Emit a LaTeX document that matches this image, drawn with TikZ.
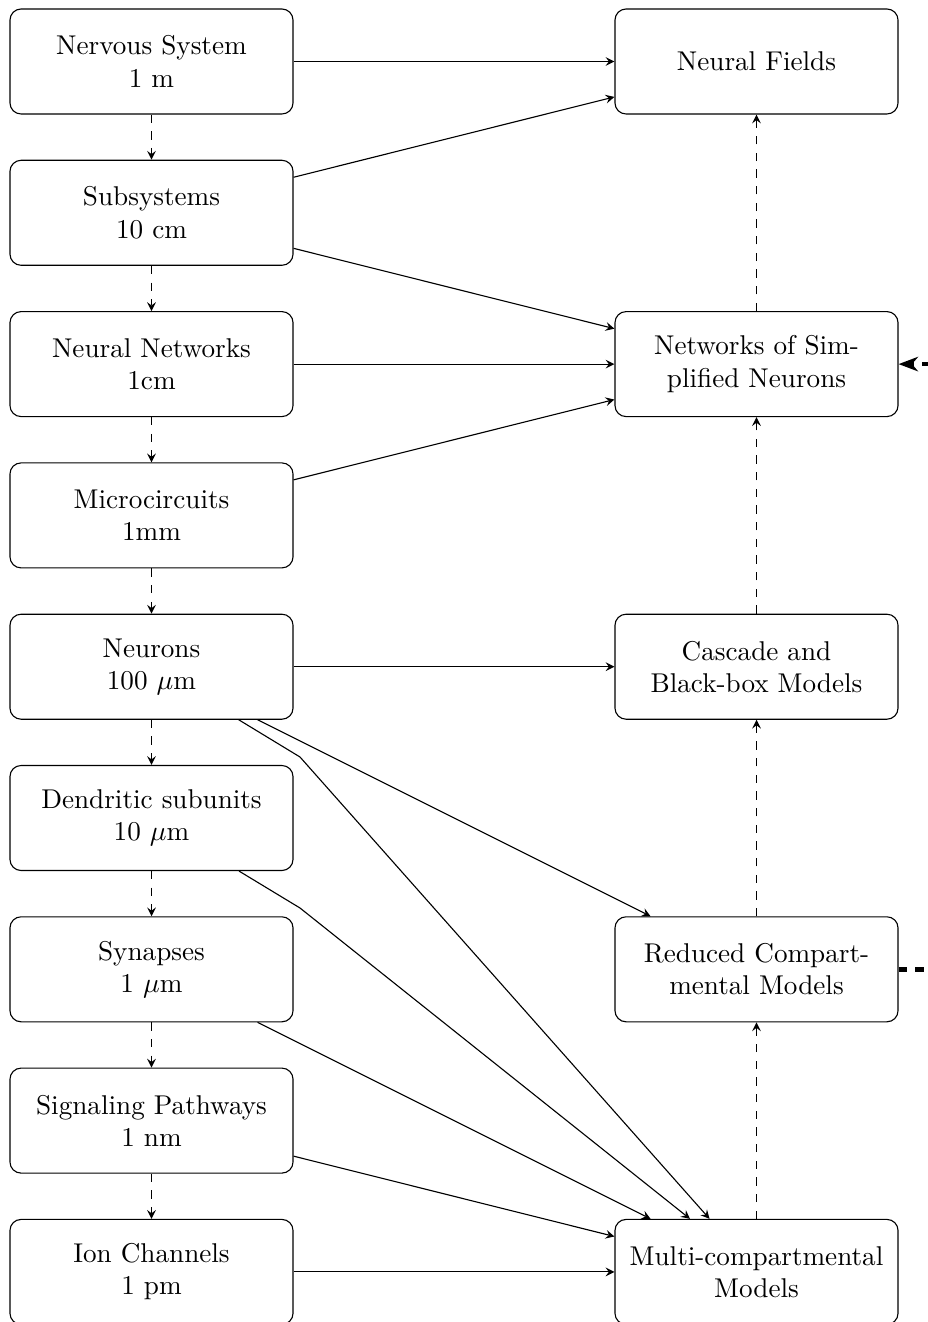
\documentclass[tikz,border=0pt]{standalone}
\usetikzlibrary{arrows.meta}
\begin{document}
\begin{tikzpicture}[x=0.36pt,y=-0.36pt,
  box/.style={draw, rounded corners=4pt, line width=0.4pt,
    minimum width=101.9pt, minimum height=37.8pt,
    text width=94pt, align=center, inner sep=2pt,
    font=\fontsize{9.78pt}{11.6pt}\selectfont},
  link/.style={-stealth, line width=0.4pt},
  scale link/.style={-stealth, dashed, line width=0.4pt},
  feedback/.style={-{Stealth[length=7pt,width=5.2pt,inset=2.2pt]},
    dash pattern=on 3pt off 3pt, ultra thick}]
\useasboundingbox (0,0) rectangle (928,1322);
\clip (0,0) rectangle (928,1322);

% spatial scales (left column)
\node[box] (ns)  at (151.5,61.5)   {Nervous System\\1 m};
\node[box] (sub) at (151.5,212.8)  {Subsystems\\10 cm};
\node[box] (nn)  at (151.5,364.1)  {Neural Networks\\1cm};
\node[box] (mc)  at (151.5,515.4)  {Microcircuits\\1mm};
\node[box] (neu) at (151.5,666.7)  {Neurons\\100 $\mu$m};
\node[box] (den) at (151.5,818.0)  {Dendritic subunits\\10 $\mu$m};
\node[box] (syn) at (151.5,969.3)  {Synapses\\1 $\mu$m};
\node[box] (sig) at (151.5,1120.6) {Signaling Pathways\\1 nm};
\node[box] (ion) at (151.5,1271.9) {Ion Channels\\1 pm};

% model classes (right column)
\node[box] (nf)  at (756.5,61.5)   {Neural Fields};
\node[box] (nsn) at (756.5,364.1)  {Networks of Sim-\\plified Neurons};
\node[box] (cbb) at (756.5,666.7)  {Cascade and\\Black-box Models};
\node[box] (rcm) at (756.5,969.3)  {Reduced Compart-\\mental Models};
\node[box] (mcm) at (756.5,1271.9) {Multi-compartmental\\Models};

% bend points of the long links
\coordinate (b1) at (300,757);
\coordinate (b2) at (300,908);

% descending scales
\draw[scale link] (ns) -- (sub);
\draw[scale link] (sub) -- (nn);
\draw[scale link] (nn) -- (mc);
\draw[scale link] (mc) -- (neu);
\draw[scale link] (neu) -- (den);
\draw[scale link] (den) -- (syn);
\draw[scale link] (syn) -- (sig);
\draw[scale link] (sig) -- (ion);

% model reduction chain
\draw[scale link] (mcm) -- (rcm);
\draw[scale link] (rcm) -- (cbb);
\draw[scale link] (cbb) -- (nsn);
\draw[scale link] (nsn) -- (nf);

% scale to model links
\draw[link] (ns) -- (nf);
\draw[link] (sub) -- (nf);
\draw[link] (sub) -- (nsn);
\draw[link] (nn) -- (nsn);
\draw[link] (mc) -- (nsn);
\draw[link] (neu) -- (cbb);
\draw[link] (neu) -- (rcm);
\draw[link] (neu) -- (b1) -- (mcm);
\draw[link] (den) -- (b2) -- (mcm);
\draw[link] (syn) -- (mcm);
\draw[link] (sig) -- (mcm);
\draw[link] (ion) -- (mcm);

% feedback path
\draw[feedback] (rcm.east) -- ++(80,0) |- (nsn.east);
\end{tikzpicture}
\end{document}
